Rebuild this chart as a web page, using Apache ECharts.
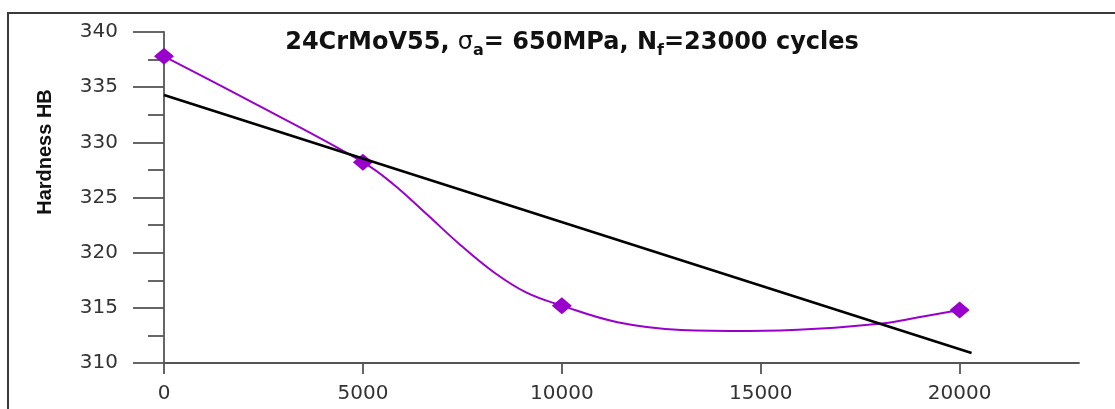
<!DOCTYPE html>
<html>
<head>
<meta charset="utf-8">
<script src="https://cdn.jsdelivr.net/npm/echarts@6/dist/echarts.min.js"></script>
<style>
  html, body { margin: 0; padding: 0; background: #fff; }
  #chart { width: 1115px; height: 409px; }
</style>
</head>
<body>
<div id="chart"></div>
<script>
// measured points
const pointX = [0, 5000, 10000, 20000];
const pointY = [337.8, 328.2, 315.2, 314.8];
// fitted curve
const curveX = [0, 2500, 5000, 5750, 6600, 7450, 8300, 9100, 10000, 11400, 13000, 14700, 16400, 18100, 18900, 20000];
const curveY = [337.8, 333.1, 328.2, 326.25, 323.5, 320.7, 318.2, 316.4, 315.2, 313.7, 313.0, 312.9, 313.1, 313.6, 314.1, 314.8];
// linear trend line
const fitX = [0, 20300];
const fitY = [334.3, 310.9];
// x tick labels
const xTicks = [0, 5000, 10000, 15000, 20000];

const zip = (xs, ys) => xs.map((x, i) => [x, ys[i]]);
const axisColor = "#555";
const labelFont = { fontFamily: "DejaVu Sans", fontSize: 20, color: "#333" };

const chart = echarts.init(document.getElementById("chart"));
chart.setOption({
  animation: false,
  title: {
    left: 567,
    top: 22,
    textAlign: "center",
    text: "24CrMoV55, {sym|σ}{sub|a}= 650MPa, N{sub|f}=23000 cycles",
    textStyle: {
      fontFamily: "DejaVu Sans",
      fontWeight: "bold",
      fontSize: 24,
      color: "#111",
      lineHeight: 32,
      rich: {
        sym: { fontFamily: "DejaVu Sans", fontSize: 24, fontWeight: "normal", color: "#111", lineHeight: 32 },
        sub: { fontFamily: "DejaVu Sans", fontSize: 16, fontWeight: "bold", color: "#111", lineHeight: 14, verticalAlign: "bottom" }
      }
    }
  },
  graphic: [
    {
      type: "rect",
      silent: true,
      shape: { x: 8, y: 13, width: 1300, height: 600 },
      style: { fill: null, stroke: "#3a3a3a", lineWidth: 2 }
    },
    {
      type: "text",
      x: 45,
      y: 152,
      rotation: Math.PI / 2,
      style: {
        text: "Hardness HB",
        fontFamily: "Liberation Sans",
        fontWeight: "bold",
        fontSize: 20,
        fill: "#111",
        align: "center",
        verticalAlign: "middle"
      }
    }
  ],
  grid: { left: 164, top: 32, width: 915, height: 331 },
  xAxis: {
    type: "value",
    min: 0,
    max: 23000,
    interval: 5000,
    splitLine: { show: false },
    axisLine: { onZero: false, lineStyle: { color: axisColor, width: 1.8 } },
    axisTick: { length: 11, customValues: xTicks, lineStyle: { color: axisColor, width: 1.8 } },
    axisLabel: Object.assign({ margin: 21, customValues: xTicks, formatter: v => String(v) }, labelFont)
  },
  yAxis: {
    type: "value",
    min: 310,
    max: 340,
    interval: 5,
    splitLine: { show: false },
    axisLine: { show: true, onZero: false, lineStyle: { color: axisColor, width: 1.8 } },
    axisTick: { length: 31, lineStyle: { color: axisColor, width: 1.8 } },
    minorTick: { show: true, splitNumber: 2, length: 16, lineStyle: { color: axisColor, width: 1.8 } },
    minorSplitLine: { show: false },
    axisLabel: Object.assign({ margin: 46, formatter: v => String(v) }, labelFont)
  },
  series: [
    {
      name: "curve",
      type: "line",
      data: zip(curveX, curveY),
      smooth: 0.4,
      showSymbol: false,
      symbol: "none",
      clip: false,
      lineStyle: { color: "#9900cc", width: 2 },
      z: 2
    },
    {
      name: "points",
      type: "scatter",
      data: zip(pointX, pointY),
      symbol: "diamond",
      symbolSize: [20, 17],
      itemStyle: { color: "#9900cc", opacity: 1 },
      clip: false,
      z: 3
    },
    {
      name: "trend",
      type: "line",
      data: zip(fitX, fitY),
      showSymbol: false,
      symbol: "none",
      clip: false,
      lineStyle: { color: "#000", width: 2.6 },
      z: 4
    }
  ]
});
</script>
</body>
</html>
